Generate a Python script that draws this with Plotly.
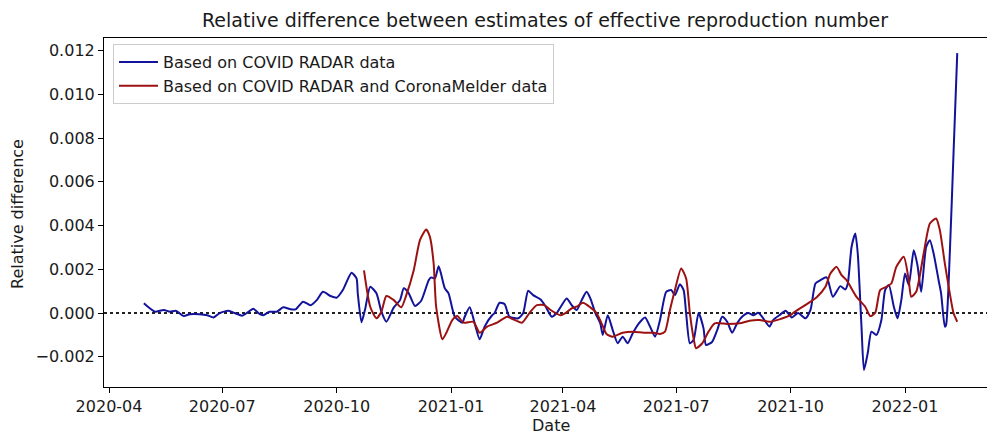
import plotly.graph_objects as go

# Relative difference between Rt estimates, COVID RADAR-based estimate
radar_dates = [
    "2020-04-29", "2020-05-04", "2020-05-08", "2020-05-15", "2020-05-20", "2020-05-25",
    "2020-05-31", "2020-06-05", "2020-06-13", "2020-06-19", "2020-06-24", "2020-06-29",
    "2020-07-06", "2020-07-11", "2020-07-17", "2020-07-21", "2020-07-26", "2020-07-30",
    "2020-08-03", "2020-08-08", "2020-08-14", "2020-08-19", "2020-08-25", "2020-08-29",
    "2020-09-04", "2020-09-10", "2020-09-15", "2020-09-20", "2020-09-26", "2020-10-01",
    "2020-10-06", "2020-10-13", "2020-10-17", "2020-10-18", "2020-10-21", "2020-10-24",
    "2020-10-28", "2020-11-02", "2020-11-06", "2020-11-10", "2020-11-16", "2020-11-21",
    "2020-11-24", "2020-11-28", "2020-12-03", "2020-12-08", "2020-12-14", "2020-12-16",
    "2020-12-19", "2020-12-22", "2020-12-24", "2020-12-27", "2020-12-30", "2021-01-04",
    "2021-01-10", "2021-01-12", "2021-01-16", "2021-01-20", "2021-01-24", "2021-01-28",
    "2021-02-03", "2021-02-05", "2021-02-09", "2021-02-13", "2021-02-17", "2021-02-24",
    "2021-02-28", "2021-03-04", "2021-03-08", "2021-03-14", "2021-03-18", "2021-03-23",
    "2021-03-27", "2021-04-04", "2021-04-08", "2021-04-12", "2021-04-16", "2021-04-20",
    "2021-04-23", "2021-04-27", "2021-05-01", "2021-05-03", "2021-05-07", "2021-05-11",
    "2021-05-15", "2021-05-19", "2021-05-23", "2021-05-27", "2021-06-01", "2021-06-06",
    "2021-06-10", "2021-06-14", "2021-06-18", "2021-06-23", "2021-06-27", "2021-06-30",
    "2021-07-04", "2021-07-07", "2021-07-09", "2021-07-12", "2021-07-15", "2021-07-19",
    "2021-07-23", "2021-07-25", "2021-07-30", "2021-08-03", "2021-08-07", "2021-08-11",
    "2021-08-15", "2021-08-19", "2021-08-23", "2021-08-28", "2021-09-01", "2021-09-05",
    "2021-09-09", "2021-09-14", "2021-09-17", "2021-09-22", "2021-09-27", "2021-10-02",
    "2021-10-07", "2021-10-13", "2021-10-17", "2021-10-21", "2021-10-25", "2021-10-30",
    "2021-11-04", "2021-11-10", "2021-11-14", "2021-11-16", "2021-11-19", "2021-11-22",
    "2021-11-24", "2021-11-27", "2021-11-29", "2021-12-02", "2021-12-05", "2021-12-09",
    "2021-12-13", "2021-12-16", "2021-12-19", "2021-12-23", "2021-12-26", "2021-12-29",
    "2022-01-01", "2022-01-04", "2022-01-08", "2022-01-11", "2022-01-14", "2022-01-18",
    "2022-01-21", "2022-01-24", "2022-01-28", "2022-01-30", "2022-02-02", "2022-02-03",
    "2022-02-06", "2022-02-09", "2022-02-12",
]
radar_values = [
    0.00045, 0.00021, 0.00006, 0.00014, 0.00006, 0.00010,
    -0.00014, -0.00005, -0.00005, -0.00010, -0.00020, 0.00000,
    0.00010, 0.00000, -0.00012, 0.00001, 0.00020, 0.00000,
    -0.00010, 0.00006, 0.00006, 0.00026, 0.00017, 0.00017,
    0.00052, 0.00036, 0.00059, 0.00097, 0.00078, 0.00070,
    0.00105, 0.00184, 0.00158, 0.00090, -0.00042, 0.00020,
    0.00120, 0.00090, 0.00006, -0.00040, 0.00026, 0.00059,
    0.00113, 0.00090, 0.00032, 0.00056, 0.00150, 0.00163,
    0.00158, 0.00214, 0.00178, 0.00113, 0.00090, -0.00017,
    -0.00044, -0.00017, 0.00026, -0.00047, -0.00120, -0.00062,
    -0.00010, 0.00000, 0.00047, 0.00041, -0.00017, -0.00024,
    0.00000, 0.00102, 0.00082, 0.00062, 0.00030, -0.00017,
    0.00000, 0.00067, 0.00036, 0.00014, 0.00059, 0.00097,
    0.00067, 0.00000, -0.00047, -0.00100, -0.00010, -0.00078,
    -0.00138, -0.00108, -0.00138, -0.00093, -0.00047, -0.00020,
    -0.00062, -0.00108, -0.00032, 0.00097, 0.00105, 0.00082,
    0.00132, 0.00105, 0.00000, -0.00138, -0.00123, 0.00000,
    -0.00070, -0.00146, -0.00131, -0.00078, -0.00017, -0.00040,
    -0.00090, -0.00047, -0.00017, 0.00000, -0.00010, 0.00001,
    -0.00024, -0.00062, -0.00032, -0.00010, 0.00010, -0.00020,
    0.00000, -0.00024, 0.00014, 0.00135, 0.00150, 0.00163,
    0.00074, 0.00123, 0.00108, 0.00135, 0.00302, 0.00364,
    0.00272, -0.00062, -0.00260, -0.00184, -0.00085, -0.00100,
    -0.00032, 0.00105, 0.00128, 0.00029, -0.00024, 0.00059,
    0.00181, 0.00128, 0.00287, 0.00219, 0.00097, 0.00302,
    0.00333, 0.00272, 0.00150, 0.00090, -0.00062, -0.00055,
    0.00272, 0.00729, 0.01188,
]

# COVID RADAR + CoronaMelder-based estimate
melder_dates = [
    "2020-10-23", "2020-10-28", "2020-11-02", "2020-11-06", "2020-11-10", "2020-11-16",
    "2020-11-22", "2020-11-26", "2020-12-02", "2020-12-07", "2020-12-12", "2020-12-15",
    "2020-12-18", "2020-12-20", "2020-12-25", "2020-12-28", "2021-01-02", "2021-01-06",
    "2021-01-11", "2021-01-19", "2021-01-24", "2021-01-30", "2021-02-07", "2021-02-15",
    "2021-02-20", "2021-02-27", "2021-03-05", "2021-03-11", "2021-03-17", "2021-03-22",
    "2021-03-30", "2021-04-03", "2021-04-08", "2021-04-12", "2021-04-17", "2021-04-23",
    "2021-04-28", "2021-05-02", "2021-05-06", "2021-05-11", "2021-05-19", "2021-05-27",
    "2021-06-05", "2021-06-13", "2021-06-18", "2021-06-22", "2021-06-26", "2021-06-30",
    "2021-07-05", "2021-07-09", "2021-07-12", "2021-07-15", "2021-07-17", "2021-07-22",
    "2021-07-27", "2021-08-01", "2021-08-11", "2021-08-21", "2021-08-29", "2021-09-06",
    "2021-09-14", "2021-09-22", "2021-10-01", "2021-10-03", "2021-10-14", "2021-10-22",
    "2021-10-29", "2021-11-02", "2021-11-07", "2021-11-11", "2021-11-15", "2021-11-23",
    "2021-11-30", "2021-12-04", "2021-12-08", "2021-12-12", "2021-12-17", "2021-12-21",
    "2021-12-25", "2021-12-31", "2022-01-04", "2022-01-06", "2022-01-10", "2022-01-16",
    "2022-01-21", "2022-01-26", "2022-01-29", "2022-02-02", "2022-02-06", "2022-02-09",
    "2022-02-12",
]
melder_values = [
    0.00195, 0.00029, -0.00024, 0.00006, 0.00078, 0.00059,
    0.00026, 0.00082, 0.00196, 0.00333, 0.00382, 0.00348,
    0.00227, 0.00029, -0.00120, -0.00093, -0.00032, -0.00014,
    -0.00044, -0.00040, -0.00090, -0.00062, -0.00044, -0.00017,
    -0.00029, -0.00044, 0.00000, 0.00036, 0.00036, 0.00014,
    -0.00010, 0.00000, 0.00021, 0.00029, 0.00047, 0.00026,
    0.00000, -0.00047, -0.00096, -0.00108, -0.00090, -0.00085,
    -0.00090, -0.00090, -0.00096, -0.00085, 0.00014, 0.00105,
    0.00204, 0.00158, 0.00000, -0.00115, -0.00161, -0.00138,
    -0.00085, -0.00047, -0.00050, -0.00047, -0.00035, -0.00032,
    -0.00040, -0.00029, -0.00010, 0.00000, 0.00041, 0.00072,
    0.00120, 0.00181, 0.00211, 0.00173, 0.00150, 0.00074,
    0.00029, -0.00014, 0.00000, 0.00105, 0.00120, 0.00135,
    0.00211, 0.00257, 0.00150, 0.00074, 0.00097, 0.00272,
    0.00409, 0.00432, 0.00379, 0.00227, 0.00090, 0.00000,
    -0.00040,
]

series_names = ["Based on COVID RADAR data", "Based on COVID RADAR and CoronaMelder data"]
series_colors = ["#12129a", "#9c1212"]

title_text = "Relative difference between estimates of effective reproduction number"
x_label = "Date"
y_label = "Relative difference"
y_ticks = [-0.002, 0.000, 0.002, 0.004, 0.006, 0.008, 0.010, 0.012]

FONT = "DejaVu Sans"
TXT = "#1a1a1a"
W, H = 987, 435
ML, MR, MT, MB = 104, 0, 38, 48

fig = go.Figure()
for i, (xs, ys) in enumerate([(radar_dates, radar_values), (melder_dates, melder_values)]):
    fig.add_trace(go.Scatter(
        x=xs, y=ys, mode="lines", name=series_names[i],
        line=dict(color=series_colors[i], width=2, shape="spline", smoothing=0.6),
        legendgroup=f"g{i}",
    ))

# zero reference line across the axes
fig.add_shape(type="line", xref="paper", x0=0, x1=1, yref="y", y0=0, y1=0,
              line=dict(color="#222222", width=2, dash="dot"), layer="below")

plot_w = W - ML - MR
plot_h = H - MT - MB

def px_to_paper_x(px):
    return (px - ML) / plot_w

def px_to_paper_y(py):
    return (H - MB - py) / plot_h

fig.update_layout(
    width=W, height=H,
    margin=dict(l=ML, r=MR, t=MT, b=MB, pad=0),
    paper_bgcolor="white", plot_bgcolor="white",
    font=dict(family=FONT, size=16, color=TXT),
    showlegend=True,
    legend=dict(
        x=px_to_paper_x(113), y=px_to_paper_y(44), xanchor="left", yanchor="top",
        bgcolor="rgba(255,255,255,0.85)", bordercolor="#cccccc", borderwidth=1,
        font=dict(family=FONT, size=16, color=TXT),
        itemwidth=39, traceorder="grouped", tracegroupgap=0,
    ),
    xaxis=dict(
        type="date",
        range=["2020-03-27 23:00", "2022-03-07 22:00"],
        tick0="2020-04-01", dtick="M3", tickformat="%Y-%m",
        showgrid=False, zeroline=False,
        showline=True, linecolor="black", linewidth=1.1, mirror=True,
        ticks="outside", ticklen=5, tickwidth=1.1, tickcolor="black",
        tickfont=dict(family=FONT, size=16, color=TXT),
    ),
    yaxis=dict(
        range=[-0.00338, 0.01257],
        tickvals=y_ticks, tickformat=".3f",
        showgrid=False, zeroline=False,
        showline=True, linecolor="black", linewidth=1.1, mirror=False,
        ticks="outside", ticklen=5, tickwidth=1.1, tickcolor="black",
        tickfont=dict(family=FONT, size=16, color=TXT),
    ),
    annotations=[
        dict(text=title_text, xref="paper", yref="paper",
             x=px_to_paper_x(545), y=px_to_paper_y(20), xanchor="center", yanchor="middle",
             showarrow=False, font=dict(family=FONT, size=19, color=TXT)),
        dict(text=x_label, xref="paper", yref="paper",
             x=px_to_paper_x(551), y=px_to_paper_y(425), xanchor="center", yanchor="middle",
             showarrow=False, font=dict(family=FONT, size=16, color=TXT)),
        dict(text=y_label, xref="paper", yref="paper", textangle=-90,
             x=px_to_paper_x(17), y=px_to_paper_y(214), xanchor="center", yanchor="middle",
             showarrow=False, font=dict(family=FONT, size=16, color=TXT)),
    ],
)

fig.write_html("out.html")
